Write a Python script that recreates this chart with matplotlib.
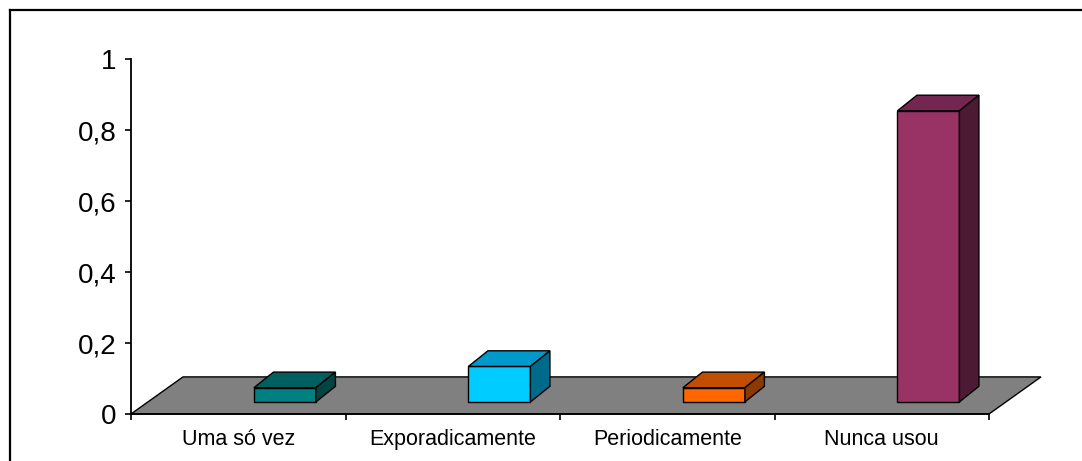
import matplotlib
matplotlib.use("Agg")
import matplotlib.pyplot as plt
from matplotlib.lines import Line2D
from matplotlib.ticker import FixedLocator, FuncFormatter
import numpy as np

plt.rcParams['font.family'] = ['Liberation Sans', 'DejaVu Sans']

# data
categories = ['Uma só vez', 'Exporadicamente', 'Periodicamente', 'Nunca usou']
values = [0.04, 0.10, 0.04, 0.82]
y_ticks = [0, 0.2, 0.4, 0.6, 0.8, 1]

# colours: front, top, side
front_cols = ['#008080', '#00ccff', '#ff6600', '#993366']
top_cols = ['#006060', '#0099cc', '#c04d00', '#732650']
side_cols = ['#004444', '#006a8a', '#8a3a00', '#4c1a33']

# fake-3d geometry (category units / value units)
FLOOR_DX, FLOOR_DY = 0.2424, 0.1045
BAR_SHIFT, BAR_W = 0.573, 0.289
BAR_BASE = 0.034
BAR_DX, BAR_DY = 0.091, 0.044

W, H = 1082, 461
fig = plt.figure(figsize=(W / 100, H / 100), dpi=100)
ax = fig.add_axes([131 / W, (H - 414) / H, 858 / W, 355 / H])
ax.set_xlim(0, len(categories))
ax.set_ylim(0, 1)

# floor
n = len(categories)
ax.fill([0, n, n + FLOOR_DX, FLOOR_DX], [0, 0, FLOOR_DY, FLOOR_DY],
        facecolor='#808080', edgecolor='black', linewidth=1, clip_on=False, zorder=1)

# boxes
for i, v in enumerate(values):
    x0 = i + BAR_SHIFT
    x1 = x0 + BAR_W
    y0 = BAR_BASE
    y1 = BAR_BASE + v
    kw = dict(edgecolor='black', linewidth=1, clip_on=False, zorder=3, joinstyle='miter')
    ax.fill([x0, x1, x1, x0], [y0, y0, y1, y1], facecolor=front_cols[i], **kw)
    ax.fill([x0, x1, x1 + BAR_DX, x0 + BAR_DX], [y1, y1, y1 + BAR_DY, y1 + BAR_DY],
            facecolor=top_cols[i], **kw)
    ax.fill([x1, x1 + BAR_DX, x1 + BAR_DX, x1], [y0, y0 + BAR_DY, y1 + BAR_DY, y1],
            facecolor=side_cols[i], **kw)

# axes styling
for s in ['top', 'right']:
    ax.spines[s].set_visible(False)
ax.spines['left'].set_linewidth(1.3)
ax.spines['bottom'].set_linewidth(1.3)
ax.spines['left'].set_zorder(4)
ax.spines['bottom'].set_zorder(4)

ax.set_yticks(y_ticks)
ax.yaxis.set_major_formatter(FuncFormatter(lambda v, p: ('%g' % v).replace('.', ',')))
ax.tick_params(axis='y', direction='out', length=4, width=1.2, pad=6.5,
               labelsize=20, colors='black')

ax.xaxis.set_major_locator(FixedLocator(np.arange(n + 1)))
ax.xaxis.set_minor_locator(FixedLocator(np.arange(n) + 0.5))
ax.xaxis.set_major_formatter(FuncFormatter(lambda v, p: ''))
ax.xaxis.set_minor_formatter(FuncFormatter(lambda v, p: categories[int(v)]))
ax.tick_params(axis='x', which='major', direction='out', length=4, width=1.2)
ax.tick_params(axis='x', which='minor', length=0, pad=10.5, labelsize=15.5)

# chart frame
fig.add_artist(Line2D([10 / W, 10 / W], [0, 1 - 10 / H], color='black', linewidth=1.6))
fig.add_artist(Line2D([10 / W, 1], [1 - 10 / H, 1 - 10 / H], color='black', linewidth=1.6))

fig.savefig('out.png', dpi=100)
